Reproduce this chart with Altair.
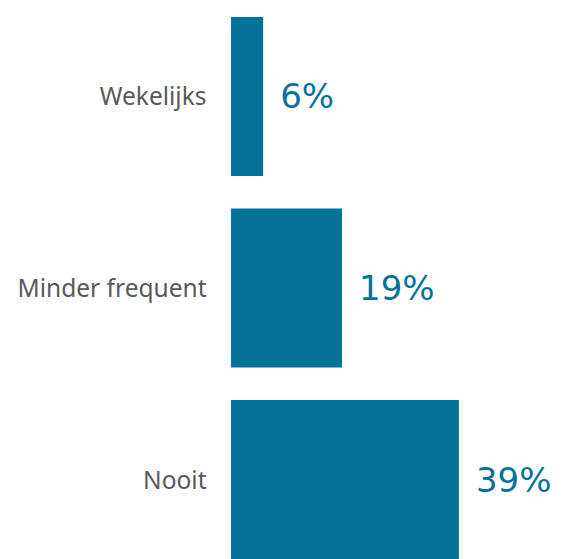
import altair as alt
import pandas as pd

categories = ["Wekelijks", "Minder frequent", "Nooit"]
values = [5.5, 19, 39]
labels = ["6%", "19%", "39%"]

df = pd.DataFrame({"cat": categories, "val": values, "lab": labels})

BAR = "#05729a"

y = alt.Y("cat:N", sort=categories, title=None,
          scale=alt.Scale(paddingInner=0.17, paddingOuter=0),
          axis=alt.Axis(ticks=False, tickSize=0, domain=False, labelPadding=25,
                        labelFontSize=24.5, labelFont="Noto Sans", labelColor="#595959",
                        labelFontWeight="normal", labelLimit=400, labelOffset=2))
x = alt.X("val:Q", title=None, scale=alt.Scale(domain=[0, 55.1], nice=False), axis=None)

bars = alt.Chart(df).mark_bar(color=BAR).encode(x=x, y=y)
text = alt.Chart(df).mark_text(align="left", baseline="middle", dx=17, dy=2, fontSize=34,
                               font="DejaVu Sans", color=BAR).encode(x=x, y=y, text="lab:N")

chart = (bars + text).properties(
    width=322, height=542,
    autosize=alt.AutoSizeParams(type="none"),
    padding={"left": 223, "top": 9, "right": 0, "bottom": 0},
).configure_view(stroke=None)

chart.save("out.html", embed_options={"renderer": "svg", "actions": False})
